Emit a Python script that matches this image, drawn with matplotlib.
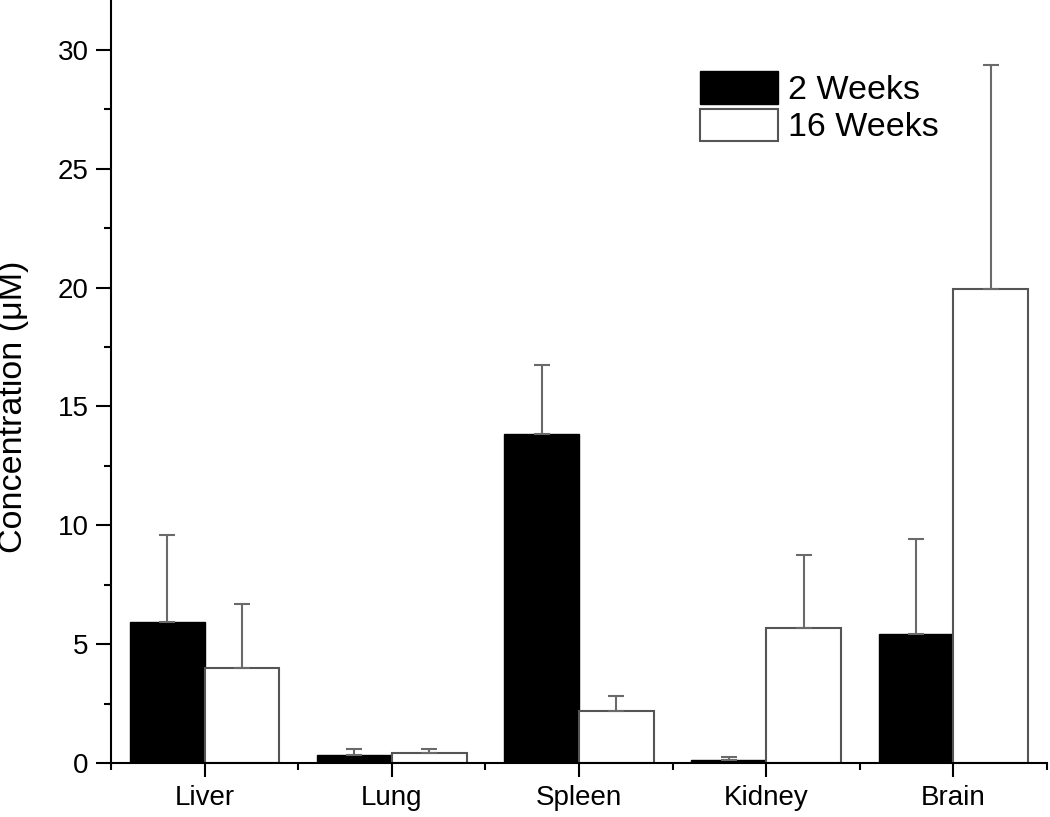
import numpy as np
import matplotlib
matplotlib.use("Agg")
import matplotlib.pyplot as plt
from matplotlib.ticker import MultipleLocator, FixedLocator

plt.rcParams['font.family'] = ['Liberation Sans', 'DejaVu Sans']

organs = ['Liver', 'Lung', 'Spleen', 'Kidney', 'Brain']
wk2 = [5.95, 0.35, 13.85, 0.15, 5.45]
wk2_err = [3.65, 0.23, 2.9, 0.1, 3.97]
wk16 = [4.0, 0.42, 2.2, 5.7, 19.95]
wk16_err = [2.7, 0.16, 0.63, 3.05, 9.43]

x = np.arange(1, len(organs) + 1)
w = 0.4

fig = plt.figure(figsize=(10.5, 8.17), dpi=100)
ax = fig.add_axes([0.1057, 0.066, 0.8915, 0.934])

err_kw = dict(ecolor='#6a6a6a', elinewidth=1.5, capsize=6, capthick=1.5)
ax.bar(x - w / 2, wk2, w, color='black', edgecolor='black', linewidth=1.0,
       yerr=[np.zeros(len(wk2)), wk2_err], error_kw=err_kw, label='2 Weeks', zorder=2)
ax.bar(x + w / 2, wk16, w, color='white', edgecolor='#555555', linewidth=1.5,
       yerr=[np.zeros(len(wk16)), wk16_err], error_kw=err_kw, label='16 Weeks', zorder=2)

ax.set_xlim(0.5, 5.5)
ax.set_ylim(0, 32.1)
ax.set_xticks(x)
ax.set_xticklabels(organs)
ax.xaxis.set_minor_locator(FixedLocator(np.arange(0.5, 6, 1.0)))
ax.yaxis.set_major_locator(MultipleLocator(5))
ax.yaxis.set_minor_locator(MultipleLocator(2.5))

for s in ['top', 'right']:
    ax.spines[s].set_visible(False)
for s in ['left', 'bottom']:
    ax.spines[s].set_linewidth(1.5)

ax.tick_params(axis='both', which='major', direction='out', width=1.5, labelsize=15)
ax.tick_params(axis='x', which='major', length=10, pad=6)
ax.tick_params(axis='y', which='major', length=11, pad=5)
ax.tick_params(axis='both', which='minor', direction='out', width=1.5, length=5)
for lab in ax.get_yticklabels() + ax.get_xticklabels():
    lab.set_fontsize(20)

ax.set_ylabel('Concentration (\u03bcM)', fontsize=24.5)
ax.yaxis.set_label_coords(-0.0876, 0.467)

leg = ax.legend(loc='upper left', bbox_to_anchor=(0.629, 0.907), frameon=False,
                fontsize=24.5, handlelength=2.3, handleheight=1.1,
                handletextpad=0.3, labelspacing=0.08, borderpad=0, borderaxespad=0)

fig.savefig('out.png', dpi=100)
